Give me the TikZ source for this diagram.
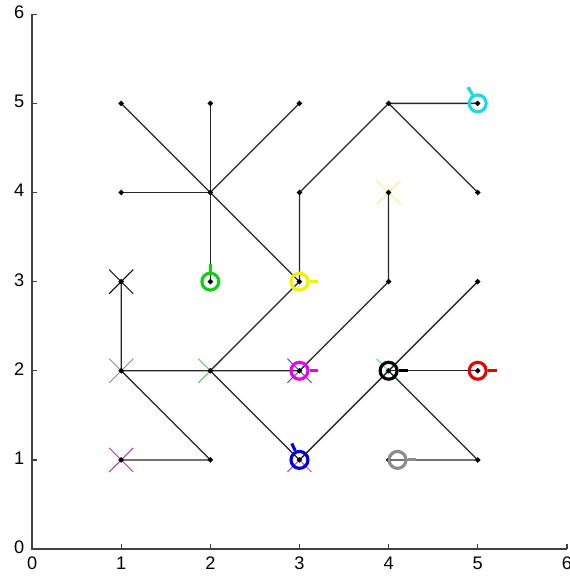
\documentclass[tikz,border=0pt]{standalone}
\usepackage{fontspec}
\setmainfont{Liberation Sans}
\usepackage{tikz}
\usetikzlibrary{shapes.geometric, shapes.misc}
\definecolor{mcyan}{RGB}{20,220,230}
\definecolor{mgreen}{RGB}{20,205,20}
\definecolor{myellow}{RGB}{245,240,0}
\definecolor{mmagenta}{RGB}{235,0,235}
\definecolor{mred}{RGB}{235,0,0}
\definecolor{mblue}{RGB}{0,0,220}
\definecolor{mgray}{RGB}{140,140,140}
\definecolor{xgreen}{RGB}{90,200,90}
\definecolor{xpurple}{RGB}{170,60,170}
\definecolor{xyellow}{RGB}{245,240,130}
\definecolor{xcyan}{RGB}{80,220,220}
\definecolor{xblue}{RGB}{60,60,220}
\definecolor{xpink}{RGB}{190,80,190}

\begin{document}
\begin{tikzpicture}[
  x=1cm, y=1cm,
  axis/.style={black!75, line width=0.45pt},
  edge/.style={black!85, line width=0.4pt},
  dot/.style={diamond, fill=black, inner sep=0pt, minimum size=2pt},
  crossmark/.style={cross out, draw=#1, line width=0.3pt, minimum size=0.26cm, inner sep=0pt},
  robot/.style={circle, draw=#1, line width=1pt, minimum size=0.19cm, inner sep=0pt},
  tail/.style={draw=#1, line width=1pt},
  lbl/.style={font=\fontsize{5.8}{6.5}\selectfont, inner sep=0pt}
]
\useasboundingbox (-0.36,-0.37) rectangle (6.03,6.16);

\draw[axis] (0,6) -- (0,0) -- (6,0);
\foreach \k in {0,...,6} {
  \draw[axis] (\k,0) -- ++(0,0.06);
  \draw[axis] (0,\k) -- ++(0.06,0);
  \node[lbl, anchor=east] (yl\k) at (-0.08,\k+0.02) {\k};
  \node[lbl, anchor=north] (xl\k) at (\k,-0.08) {\k};
}

\foreach \i in {1,...,5}
  \foreach \j in {1,...,5}
    \coordinate (p\i\j) at (\i,\j);

\node[crossmark=black] (x13) at (p13) {};
\node[crossmark=mgray] (x12) at (p12) {};
\node[crossmark=xgreen] (x22) at (p22) {};
\node[crossmark=xpurple] (x11) at (p11) {};
\node[crossmark=xyellow] (x44) at (p44) {};
\node[crossmark=xcyan] (x42) at (p42) {};
\node[crossmark=xblue] (x32) at (p32) {};
\node[crossmark=xpink] (x31) at (p31) {};

\draw[edge] (p15) -- (p24) -- (p35);
\draw[edge] (p14) -- (p24) -- (p25);
\draw[edge] (p24) -- (p23);
\draw[edge] (p24) -- (p33) -- (p34) -- (p45) -- (p55);
\draw[edge] (p45) -- (p54);
\draw[edge] (p33) -- (p22) -- (p12) -- (p13);
\draw[edge] (p22) -- (p32) -- (p43) -- (p44);
\draw[edge] (p22) -- (p31) -- (p42) -- (p53);
\draw[edge] (p12) -- (p21) -- (p11);
\draw[edge] (p42) -- (p52);
\draw[edge] (p42) -- (p51) -- (p41);

\foreach \i in {1,...,5}
  \foreach \j in {1,...,5}
    \node[dot] (d\i\j) at (p\i\j) {};

\node[robot=mcyan] (r55) at (p55) {};
\draw[tail=mcyan] (r55.121) -- ++(121:0.1);
\node[robot=mgreen] (r23) at (p23) {};
\draw[tail=mgreen] (r23.north) -- ++(0,0.09);
\node[robot=myellow] (r33) at (p33) {};
\draw[tail=myellow] (r33.east) -- ++(0.1,0);
\node[robot=mmagenta] (r32) at (p32) {};
\draw[tail=mmagenta] (r32.east) -- ++(0.1,0);
\node[robot=black] (r42) at (p42) {};
\draw[tail=black] (r42.east) -- ++(0.11,0);
\node[robot=mred] (r52) at (p52) {};
\draw[tail=mred] (r52.east) -- ++(0.1,0);
\node[robot=mblue] (r31) at (p31) {};
\draw[tail=mblue] (r31.115) -- ++(115:0.09);
\node[robot=mgray] (r41) at ([xshift=1mm]p41) {};
\draw[tail=mgray] (r41.east) -- ++(0.1,0);
\end{tikzpicture}
\end{document}
